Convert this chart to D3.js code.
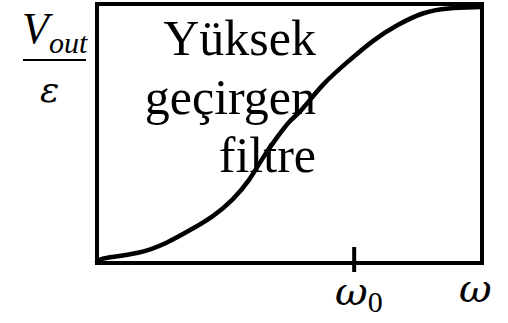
<!DOCTYPE html>
<html>
<head>
<meta charset="utf-8">
<script src="https://cdn.jsdelivr.net/npm/d3@7"></script>
<style>
  body { margin: 0; background: #fff; }
  text { font-family: "Liberation Serif", "Times New Roman", serif; fill: #000; }
  .greek { font-family: "DejaVu Serif", serif; font-style: italic; }
</style>
</head>
<body>
<svg id="chart" width="508" height="323"></svg>
<script>
// frequency (normalised) and response
var omega = [0, 0.008, 0.112, 0.182, 0.242, 0.301, 0.353, 0.397, 0.431, 0.468, 0.501, 0.527, 0.587, 0.657, 0.717, 0.779, 0.847, 0.909, 0.995];
var gain  = [0.005, 0.019, 0.035, 0.077, 0.127, 0.178, 0.243, 0.320, 0.409, 0.486, 0.552, 0.579, 0.695, 0.784, 0.861, 0.919, 0.969, 0.985, 0.988];
var tickOmega0 = 0.668;
var titleLines = ["Yüksek", "geçirgen", "filtre"];

var margin = { top: 4, right: 26, bottom: 60, left: 97 },
    width = 508 - margin.left - margin.right,
    height = 323 - margin.top - margin.bottom;

var svg = d3.select("#chart");

var x = d3.scaleLinear().domain([0, 1]).range([margin.left, margin.left + width]);
var y = d3.scaleLinear().domain([0, 1]).range([margin.top + height, margin.top]);

// frame
svg.append("rect")
    .attr("x", x(0))
    .attr("y", y(1))
    .attr("width", x(1) - x(0))
    .attr("height", y(0) - y(1))
    .attr("fill", "none")
    .attr("stroke", "#000")
    .attr("stroke-width", 4);

// text in the box
svg.append("g").selectAll("text")
    .data(titleLines)
    .enter().append("text")
    .attr("x", 316)
    .attr("y", (d, i) => 55 + i * 58.5)
    .attr("text-anchor", "end")
    .style("font-size", "50px")
    .text(d => d);

// response curve
var line = d3.line()
    .x((d, i) => x(omega[i]))
    .y((d, i) => y(gain[i]))
    .curve(d3.curveBasis);

svg.append("path")
    .datum(omega)
    .attr("d", line)
    .attr("fill", "none")
    .attr("stroke", "#000")
    .attr("stroke-width", 4.5)
    .attr("stroke-linejoin", "round")
    .attr("stroke-linecap", "round");

// omega_0 tick
svg.append("line")
    .attr("x1", x(tickOmega0))
    .attr("x2", x(tickOmega0))
    .attr("y1", y(0) - 16)
    .attr("y2", y(0) + 9)
    .attr("stroke", "#000")
    .attr("stroke-width", 4);

var w0 = svg.append("text")
    .attr("x", 335)
    .attr("y", 305);
w0.append("tspan").attr("class", "greek").style("font-size", "40px").text("ω");
w0.append("tspan").attr("dy", 7).style("font-size", "30px").text("0");

svg.append("text")
    .attr("class", "greek")
    .attr("x", 459)
    .attr("y", 302)
    .style("font-size", "40px")
    .text("ω");

// y label: V_out / epsilon
var v = svg.append("text")
    .attr("x", 22)
    .attr("y", 43)
    .style("font-size", "44px")
    .style("font-style", "italic");
v.append("tspan").text("V");
v.append("tspan").attr("dy", 10).style("font-size", "30px").text("out");

svg.append("line")
    .attr("x1", 23)
    .attr("x2", 86)
    .attr("y1", 60)
    .attr("y2", 60)
    .attr("stroke", "#000")
    .attr("stroke-width", 2);

svg.append("text")
    .attr("class", "greek")
    .attr("x", 40)
    .attr("y", 102)
    .style("font-size", "36px")
    .text("ε");
</script>
</body>
</html>
